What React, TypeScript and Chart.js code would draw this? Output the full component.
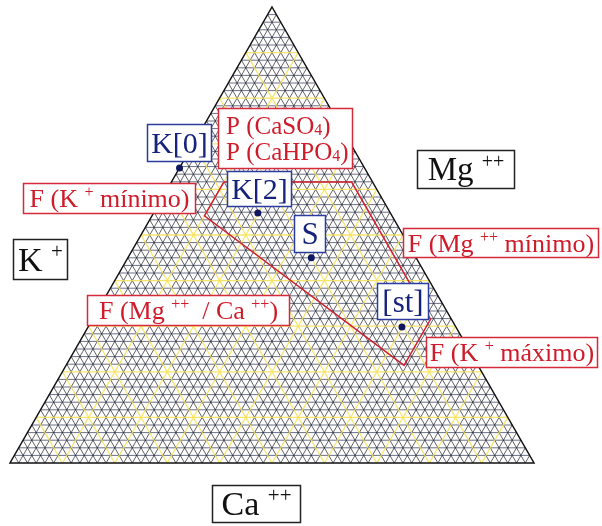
import { useEffect, useRef } from 'react';
import { Chart, registerables } from 'chart.js';

Chart.register(...registerables);

// Ternary composition as fractions: Ca++ at the apex, K+ at the right vertex,
// Mg++ at the left vertex (Mg = 1 - Ca - K).
const sampleNames = ['K[0]', 'K[2]', 'S', '[st]'];
const sampleCa = [0.647, 0.548, 0.45, 0.298];
const sampleK = [0.0, 0.199, 0.35, 0.599];

// Feasible region bounded by the precipitation / fertiliser limits
const regionCa = [0.616, 0.616, 0.315, 0.214, 0.542];
const regionK = [0.1, 0.344, 0.645, 0.645, 0.1];

const GRID_DIVISIONS = 60;
const MAJOR_EVERY = 6;

type Seg = { t: string; s?: 'sup' | 'sub' };
type Box = {
  x: number;
  y: number;
  w: number;
  h: number;
  kind: 'blue' | 'red' | 'black';
  size: number;
  lines: Seg[][];
  align?: 'left' | 'center';
};

const KIND_COLORS = {
  blue: { text: '#16237c', border: '#2b3c9e' },
  red: { text: '#cf1b2a', border: '#d42a3a' },
  black: { text: '#111111', border: '#222222' },
};

const boxes: Box[] = [
  { x: 147, y: 124, w: 65, h: 38, kind: 'blue', size: 30, lines: [[{ t: 'K[0]' }]] },
  {
    x: 218, y: 108, w: 135, h: 61, kind: 'red', size: 25, align: 'left',
    lines: [
      [{ t: 'P (CaSO' }, { t: '4', s: 'sub' }, { t: ')' }],
      [{ t: 'P (CaHPO' }, { t: '4', s: 'sub' }, { t: ')' }],
    ],
  },
  { x: 417, y: 150, w: 98, h: 39, kind: 'black', size: 33, lines: [[{ t: 'Mg ' }, { t: '++', s: 'sup' }]] },
  { x: 227, y: 171, w: 65, h: 36, kind: 'blue', size: 30, lines: [[{ t: 'K[2]' }]] },
  { x: 23, y: 183, w: 173, h: 31, kind: 'red', size: 26, lines: [[{ t: 'F (K ' }, { t: '+', s: 'sup' }, { t: ' mínimo)' }]] },
  { x: 294, y: 215, w: 32, h: 38, kind: 'blue', size: 31, lines: [[{ t: 'S' }]] },
  { x: 13, y: 239, w: 55, h: 41, kind: 'black', size: 34, lines: [[{ t: 'K ' }, { t: '+', s: 'sup' }]] },
  { x: 403, y: 228, w: 196, h: 30, kind: 'red', size: 26, lines: [[{ t: 'F (Mg ' }, { t: '++', s: 'sup' }, { t: ' mínimo)' }]] },
  { x: 377, y: 283, w: 52, h: 37, kind: 'blue', size: 31, lines: [[{ t: '[st]' }]] },
  { x: 87, y: 295, w: 203, h: 31, kind: 'red', size: 26, lines: [[{ t: 'F (Mg ' }, { t: '++', s: 'sup' }, { t: '  / Ca ' }, { t: '++', s: 'sup' }, { t: ')' }]] },
  { x: 426, y: 337, w: 172, h: 31, kind: 'red', size: 26, lines: [[{ t: 'F (K ' }, { t: '+', s: 'sup' }, { t: ' máximo)' }]] },
  { x: 212, y: 485, w: 89, h: 38, kind: 'black', size: 34, lines: [[{ t: 'Ca ' }, { t: '++', s: 'sup' }]] },
];

const FONT = '"Liberation Serif", "Times New Roman", serif';

// ternary (Ca, K) -> plot coordinates in a unit-height triangle frame
const toXY = (ca: number, k: number) => ({ x: k + ca / 2, y: ca });

function segFont(size: number, s?: 'sup' | 'sub') {
  return `${s ? Math.round(size * 0.62) : size}px ${FONT}`;
}

function measureLine(ctx: CanvasRenderingContext2D, line: Seg[], size: number) {
  let w = 0;
  for (const seg of line) {
    ctx.font = segFont(size, seg.s);
    w += ctx.measureText(seg.t).width;
  }
  return w;
}

function drawLine(ctx: CanvasRenderingContext2D, line: Seg[], size: number, x: number, baseline: number) {
  let cx = x;
  for (const seg of line) {
    ctx.font = segFont(size, seg.s);
    const dy = seg.s === 'sup' ? -size * 0.38 : seg.s === 'sub' ? size * 0.04 : 0;
    ctx.fillText(seg.t, cx, baseline + dy);
    cx += ctx.measureText(seg.t).width;
  }
}

const ternaryGrid = {
  id: 'ternaryGrid',
  beforeDatasetsDraw(chart: Chart) {
    const { ctx } = chart;
    const xs = chart.scales.x;
    const ys = chart.scales.y;
    const px = (ca: number, k: number) => {
      const p = toXY(ca, k);
      return [xs.getPixelForValue(p.x), ys.getPixelForValue(p.y)];
    };
    const line = (a: number[], b: number[]) => {
      ctx.moveTo(a[0], a[1]);
      ctx.lineTo(b[0], b[1]);
    };
    ctx.save();
    const families = (major: boolean, which: 'h' | 'd') => {
      ctx.beginPath();
      for (let i = 1; i < GRID_DIVISIONS; i++) {
        if ((i % MAJOR_EVERY === 0) !== major) continue;
        const f = i / GRID_DIVISIONS;
        if (which === 'h') {
          line(px(f, 0), px(f, 1 - f));
        } else {
          line(px(0, f), px(1 - f, f));
          line(px(1 - f, 0), px(0, 1 - f));
        }
      }
      ctx.stroke();
    };
    ctx.lineWidth = 0.9;
    ctx.strokeStyle = 'rgba(60, 68, 95, 0.85)';
    families(false, 'h');
    ctx.strokeStyle = 'rgba(30, 30, 40, 0.78)';
    families(false, 'd');
    ctx.lineWidth = 1.3;
    ctx.strokeStyle = 'rgba(246, 226, 90, 0.9)';
    families(true, 'h');
    families(true, 'd');

    // triangle outline
    const a = px(1, 0);
    const r = px(0, 1);
    const l = px(0, 0);
    ctx.beginPath();
    ctx.moveTo(a[0], a[1]);
    ctx.lineTo(r[0], r[1]);
    ctx.lineTo(l[0], l[1]);
    ctx.closePath();
    ctx.lineWidth = 1.5;
    ctx.strokeStyle = '#111';
    ctx.stroke();
    ctx.restore();
  },
};

const labelBoxes = {
  id: 'labelBoxes',
  afterDatasetsDraw(chart: Chart) {
    const { ctx } = chart;
    ctx.save();
    ctx.textBaseline = 'alphabetic';
    for (const b of boxes) {
      const c = KIND_COLORS[b.kind];
      ctx.fillStyle = '#ffffff';
      ctx.fillRect(b.x, b.y, b.w, b.h);
      ctx.lineWidth = 1.5;
      ctx.strokeStyle = c.border;
      ctx.strokeRect(b.x + 0.5, b.y + 0.5, b.w - 1, b.h - 1);
      ctx.fillStyle = c.text;
      const n = b.lines.length;
      const lineH = b.size * 1.04;
      const cap = b.size * 0.66;
      const blockH = cap + (n - 1) * lineH;
      let baseline = b.y + (b.h - blockH) / 2 + cap;
      for (const ln of b.lines) {
        const w = measureLine(ctx, ln, b.size);
        const x = b.align === 'left' ? b.x + 8 : b.x + (b.w - w) / 2;
        drawLine(ctx, ln, b.size, x, baseline);
        baseline += lineH;
      }
    }
    ctx.restore();
  },
};

export default function App() {
  const ref = useRef<HTMLCanvasElement>(null);

  useEffect(() => {
    if (!ref.current) return;
    const region = regionCa.map((ca, i) => toXY(ca, regionK[i]));
    region.push(region[0]);
    const samples = sampleCa.map((ca, i) => toXY(ca, sampleK[i]));

    const chart = new Chart(ref.current, {
      type: 'scatter',
      data: {
        datasets: [
          {
            label: 'Región factible',
            data: region,
            showLine: true,
            borderColor: '#d21f2e',
            borderWidth: 1.5,
            pointRadius: 0,
            fill: false,
          },
          {
            label: sampleNames.join(', '),
            data: samples,
            pointRadius: 3.5,
            backgroundColor: '#0e1760',
            borderWidth: 0,
          },
        ],
      },
      options: {
        responsive: false,
        animation: false,
        layout: { padding: { left: 10, top: 7, right: 68, bottom: 63 } },
        scales: {
          x: { type: 'linear', min: 0, max: 1, display: false },
          y: { type: 'linear', min: 0, max: 1, display: false },
        },
        plugins: {
          legend: { display: false },
          tooltip: { enabled: false },
        },
      },
      plugins: [ternaryGrid, labelBoxes],
    });
    return () => chart.destroy();
  }, []);

  return (
    <div style={{ position: 'fixed', left: 0, top: 0, width: 602, height: 526, background: '#fff' }}>
      <canvas ref={ref} width={602} height={526} style={{ display: 'block' }} />
    </div>
  );
}
